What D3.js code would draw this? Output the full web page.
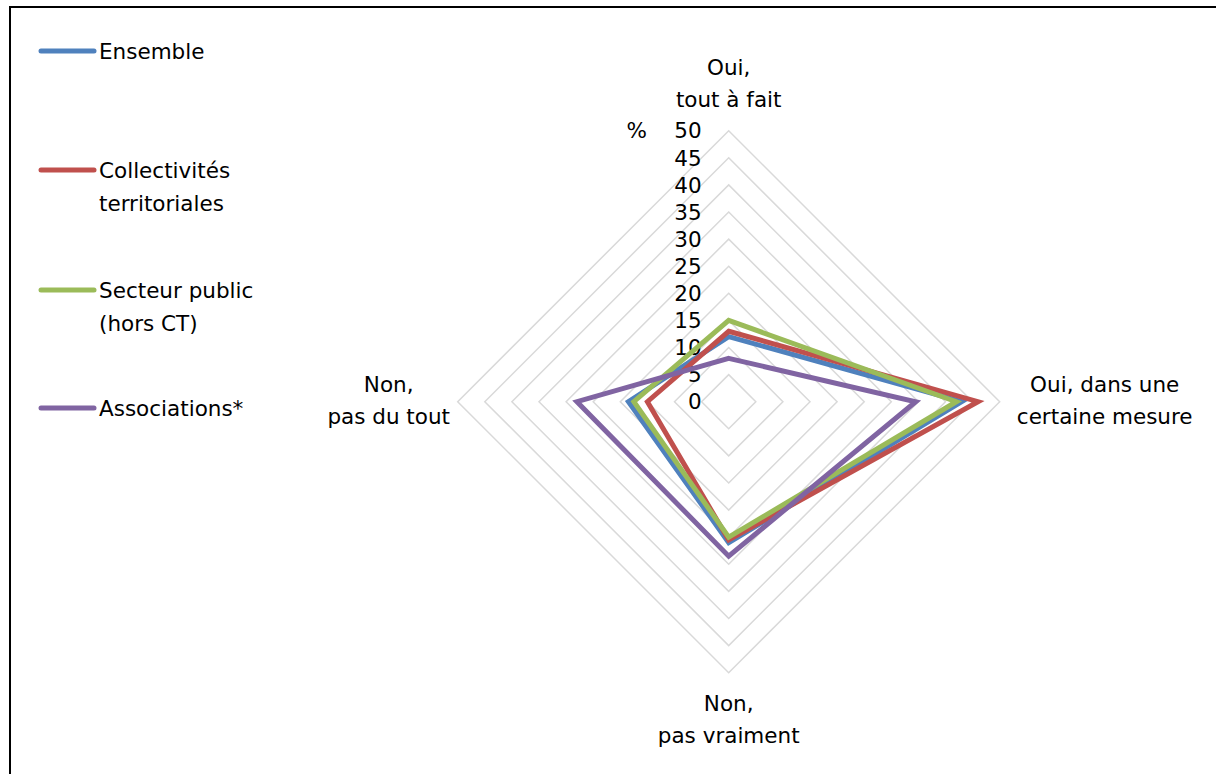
<!DOCTYPE html>
<html><head><meta charset="utf-8">
<script src="https://cdn.jsdelivr.net/npm/d3@7"></script>
<style>
html,body{margin:0;padding:0;background:#fff;}
svg{display:block;font-family:"DejaVu Sans","Noto Sans",sans-serif;}
</style></head>
<body>
<svg id="chart" width="1216" height="774"></svg>
<script>
// Data
const categories = [["Oui,","tout à fait"],["Oui, dans une","certaine mesure"],["Non,","pas vraiment"],["Non,","pas du tout"]];
const seriesNames = [["Ensemble"],["Collectivités","territoriales"],["Secteur public","(hors CT)"],["Associations*"]];
const ensemble = [12, 43, 26, 18.5];
const collectivites = [13, 46, 25.5, 15];
const secteurPublic = [15, 42, 25, 17.5];
const associations = [8, 34.5, 28.5, 28];
const tickValues = [0,5,10,15,20,25,30,35,40,45,50];
const colors = ["#4F81BD","#C0504D","#9BBB59","#8064A2"];

const allSeries = [ensemble, collectivites, secteurPublic, associations];

const svg = d3.select("#chart");
const cx = 728.7, cy = 401.7, R = 271;
const FS = 21.5;
const r = d3.scaleLinear().domain([0,50]).range([0,R]);
const angle = d3.scalePoint().domain(d3.range(categories.length)).range([0, 2*Math.PI*(categories.length-1)/categories.length]);

// frame
svg.append("rect").attr("x",10).attr("y",7).attr("width",1230).attr("height",800)
  .attr("fill","none").attr("stroke","#000").attr("stroke-width",2);

const g = svg.append("g").attr("transform",`translate(${cx},${cy})`);

const radial = d3.lineRadial().angle((d,i)=>angle(i)).radius(d=>r(d)).curve(d3.curveLinearClosed);

// grid
g.selectAll("path.grid").data(tickValues.filter(t=>t>0)).join("path")
  .attr("class","grid")
  .attr("d", t => radial(categories.map(()=>t)))
  .attr("fill","none").attr("stroke","#D9D9D9").attr("stroke-width",1.5);

// tick labels
g.selectAll("text.tick").data(tickValues).join("text")
  .attr("x",-27).attr("y",t=>-r(t)).attr("dy","0.36em")
  .attr("text-anchor","end").attr("font-size",FS).attr("fill","#000")
  .text(t=>t);
g.append("text").attr("x",-92).attr("y",-r(50)).attr("dy","0.36em")
  .attr("text-anchor","middle").attr("font-size",FS).text("%");

// series
g.selectAll("path.series").data(allSeries).join("path")
  .attr("class","series")
  .attr("d", d=>radial(d))
  .attr("fill","none").attr("stroke",(d,i)=>colors[i]).attr("stroke-width",5)
  .attr("stroke-linejoin","miter");

// category labels
const labelPos = [
  {x:0, y:-R-63},
  {x:376, y:-17},
  {x:0, y:R+31},
  {x:-340, y:-17}
];
categories.forEach((c,i)=>{
  const t = g.append("text").attr("text-anchor","middle").attr("font-size",FS).attr("fill","#000");
  c.forEach((line,j)=>{
    t.append("tspan").attr("x",labelPos[i].x).attr("y",labelPos[i].y + j*32).attr("dy","0.36em").text(line);
  });
});

// legend
const legY = [51, 170, 290, 408];
seriesNames.forEach((names,i)=>{
  svg.append("line").attr("x1",41).attr("x2",94).attr("y1",legY[i]).attr("y2",legY[i])
    .attr("stroke",colors[i]).attr("stroke-width",5).attr("stroke-linecap","round");
  const t = svg.append("text").attr("font-size",FS).attr("fill","#000");
  names.forEach((n,j)=>{
    t.append("tspan").attr("x",99).attr("y",legY[i]+j*33).attr("dy","0.36em").text(n);
  });
});
</script>
</body></html>
